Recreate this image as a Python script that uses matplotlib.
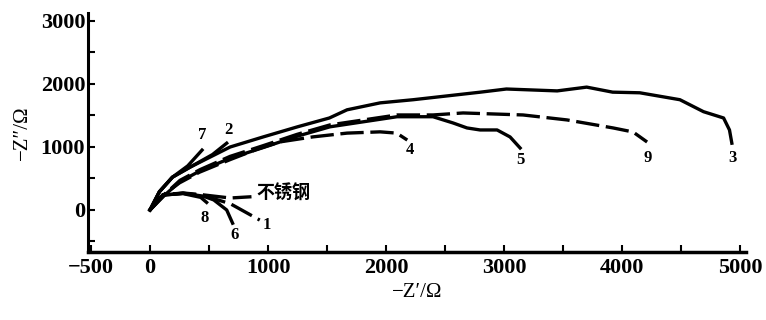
import matplotlib
matplotlib.use('Agg')
import matplotlib.pyplot as plt
from matplotlib.ticker import MultipleLocator, FixedLocator

# Nyquist curves (Z' and -Z'' in ohm)
x3 = [0, 80, 190, 340, 510, 680, 960, 1250, 1520, 1670, 1950, 2230, 2800, 3020, 3450, 3700, 3920, 4150, 4490, 4690, 4860, 4910, 4930]
y3 = [0, 290, 520, 680, 840, 1000, 1160, 1320, 1460, 1590, 1700, 1750, 1870, 1920, 1890, 1950, 1870, 1860, 1750, 1560, 1460, 1270, 1060]

x9 = [0, 127, 254, 424, 678, 958, 1246, 1525, 2093, 2398, 2653, 3161, 3534, 3924, 4093, 4212]
y9 = [0, 250, 470, 640, 850, 1020, 1200, 1350, 1508, 1508, 1540, 1508, 1429, 1302, 1238, 1079]

x5 = [0, 127, 254, 424, 678, 958, 1246, 1525, 2093, 2398, 2568, 2686, 2797, 2941, 3051, 3136]
y5 = [0, 240, 450, 620, 820, 990, 1170, 1320, 1480, 1480, 1381, 1302, 1270, 1270, 1159, 984]

x4 = [0, 100, 250, 420, 680, 900, 1100, 1380, 1670, 1950, 2090, 2180]
y4 = [0, 220, 430, 600, 800, 960, 1080, 1160, 1220, 1240, 1220, 1110]

x7 = [0, 80, 190, 320, 441]
y7 = [0, 290, 520, 700, 950]

x2 = [0, 80, 190, 340, 530, 650]
y2 = [0, 290, 520, 680, 880, 1060]

x_ss = [0, 110, 280, 450, 680, 860]
y_ss = [0, 240, 270, 240, 190, 210]

x8 = [0, 110, 280, 430, 480]
y8 = [0, 238, 260, 200, 120]

x6 = [0, 110, 280, 450, 540, 650, 700]
y6 = [0, 235, 265, 220, 160, 0, -210]

x1 = [0, 110, 280, 450, 680, 930]
y1 = [0, 240, 265, 230, 100, -160]

# curve label positions
labels = ['7', '2', '4', '5', '9', '3', '8', '6', '1']
label_x = [441, 661, 2203, 3136, 4220, 4932, 466, 720, 990]
label_y = [1190, 1270, 952, 794, 825, 825, -127, -397, -238]

serif = ['Liberation Serif', 'DejaVu Serif']

fig = plt.figure(figsize=(7.66, 3.2), dpi=100)
ax = fig.add_axes([0.1149, 0.2125, 0.859, 0.747])

lw = 2.4
dash = (0, (7, 2))
ax.plot(x3, y3, color='black', lw=lw)
ax.plot(x9, y9, color='black', lw=lw, ls=dash)
ax.plot(x5, y5, color='black', lw=lw)
ax.plot(x4, y4, color='black', lw=lw, ls=dash)
ax.plot(x7, y7, color='black', lw=lw)
ax.plot(x2, y2, color='black', lw=lw)
ax.plot(x_ss, y_ss, color='black', lw=lw, ls=dash)
ax.plot(x8, y8, color='black', lw=lw)
ax.plot(x6, y6, color='black', lw=lw)
ax.plot(x1, y1, color='black', lw=lw, ls=dash)

for t, lx, ly in zip(labels, label_x, label_y):
    ax.text(lx, ly, t, ha='center', va='center', fontsize=12, fontweight='bold', family=serif)
ax.text(900, 270, '不锈钢', ha='left', va='center', fontsize=13, fontweight='bold',
        family=['Noto Sans CJK SC', 'DejaVu Sans'])

ax.set_xlim(-525, 5050)
ax.set_ylim(-667, 3127)

ax.spines['top'].set_visible(False)
ax.spines['right'].set_visible(False)
ax.spines['left'].set_linewidth(2.2)
ax.spines['bottom'].set_linewidth(2.5)

ax.xaxis.set_major_locator(FixedLocator([-500, 0, 1000, 2000, 3000, 4000, 5000]))
ax.xaxis.set_minor_locator(MultipleLocator(500))
ax.yaxis.set_major_locator(FixedLocator([0, 1000, 2000, 3000]))
ax.yaxis.set_minor_locator(MultipleLocator(500))
ax.tick_params(which='both', direction='in', width=1.5, length=5, pad=4)
ax.tick_params(axis='y', which='both', pad=2)

for lab in ax.get_xticklabels() + ax.get_yticklabels():
    lab.set_family(serif)
    lab.set_fontsize(16)
    lab.set_fontweight('bold')

ax.set_xlabel('−Z′/Ω', fontsize=15, family=serif, labelpad=4)
ax.set_ylabel('−Z″/Ω', fontsize=15, family=serif, labelpad=6)

fig.savefig('out.png', dpi=100)
